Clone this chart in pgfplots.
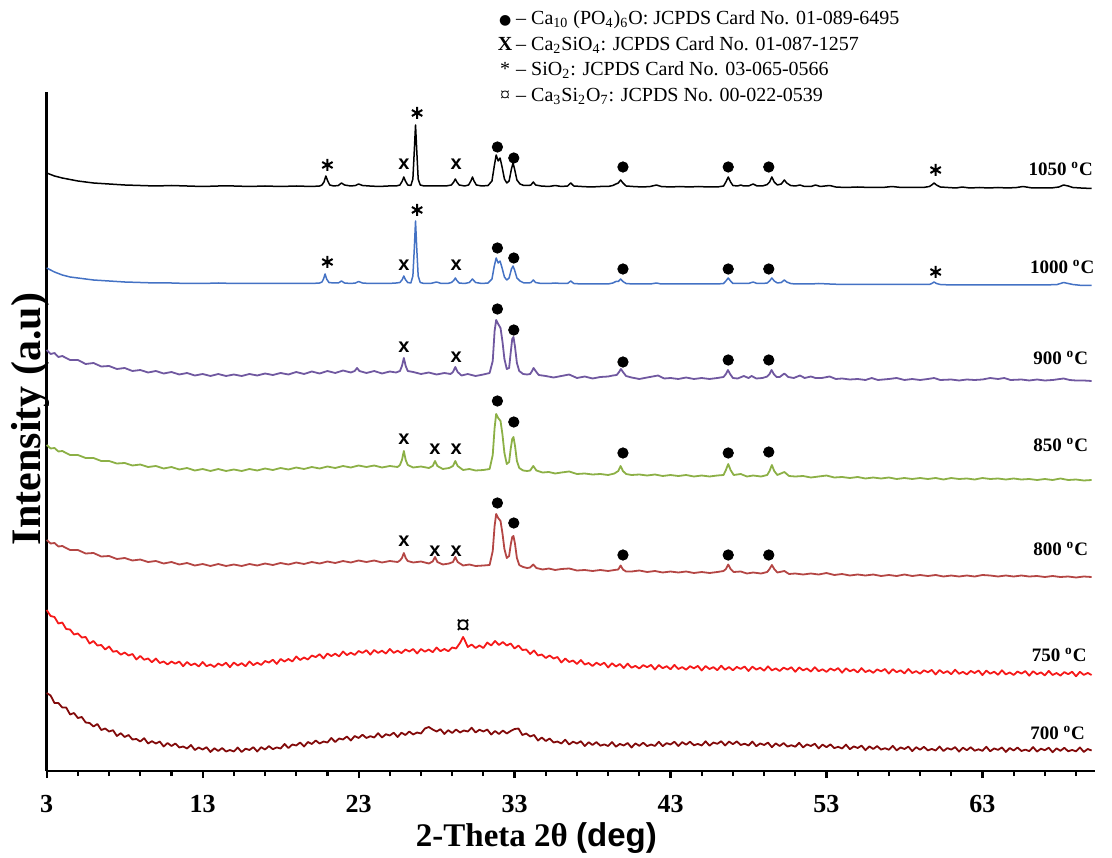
\documentclass[border=0pt]{standalone}
\usepackage{pgfplots}
\pgfplotsset{compat=1.18}
\usepackage{fontspec}
\setmainfont{Liberation Serif}
\newfontfamily\arialfont{Liberation Sans}
\newfontfamily\dejavu{DejaVu Sans}
\definecolor{c1050}{RGB}{0,0,0}
\definecolor{c1000}{RGB}{68,114,196}
\definecolor{c900}{RGB}{112,88,160}
\definecolor{c850}{RGB}{140,176,70}
\definecolor{c800}{RGB}{180,70,68}
\definecolor{c750}{RGB}{245,25,25}
\definecolor{c700}{RGB}{130,10,10}
\begin{document}
\begin{tikzpicture}
\useasboundingbox (-23.35pt,-43pt) rectangle (532.65pt,385.5pt);
\begin{axis}[
  at={(0,0)}, anchor=south west,
  scale only axis, width=524pt, height=339.5pt,
  xmin=3, xmax=70.2, ymin=0, ymax=679,
  axis x line*=bottom, axis y line*=left,
  axis line style={line width=1.2pt},
  xtick={3,13,23,33,43,53,63}, xticklabels={3,13,23,33,43,53,63},
  minor xtick={5,7,9,11,15,17,19,21,25,27,29,31,35,37,39,41,45,47,49,51,55,57,59,61,65,67,69},
  ytick=\empty,
  minor ytick={0,22.633,...,679},
  tick align=outside,
  major tick length=3.5pt, minor tick length=2.5pt,
  every tick/.style={line width=1.1pt, black},
  xticklabel style={font=\fontsize{13}{15}\selectfont\bfseries, yshift=-5pt},
  clip=false,
]
% 1050 C
\addplot[c1050, line width=0.75pt, line join=round] coordinates {
(3,598) (3.5,595) (4,593) (4.5,591.5) (5,590) (5.5,589) (6,588) (7,587) (8,586) (9,585.5) (10,585) (11,585.5) (12,585) (13,584.5) (14,585) (15,585) (16,584.5) (17,585) (18,584.5) (19,585) (20,584.5) (20.5,585)
(20.65,586) (20.78,589) (20.9,595) (21.02,590) (21.15,586) (21.4,585)
(21.7,585.5) (21.9,588) (22.1,586) (22.5,585)
(22.8,585.5) (23.0,587) (23.25,585.5) (23.7,585) (24.3,584.5) (24.9,585) (25.4,585)
(25.65,586) (25.8,590) (25.9,594) (26.0,590) (26.15,586)
(26.35,585.5) (26.48,592) (26.57,620) (26.65,646) (26.73,620) (26.82,592) (26.95,586) (27.2,585)
(27.6,585) (28.1,585) (28.6,585)
(28.95,586) (29.1,589) (29.2,592) (29.3,589) (29.45,586) (29.8,585)
(30.05,586) (30.2,590) (30.3,594) (30.4,590) (30.55,586) (30.9,585)
(31.3,585.5) (31.55,590) (31.7,605) (31.82,616) (31.95,610) (32.07,613) (32.2,604) (32.35,592) (32.5,588) (32.65,590) (32.8,602) (32.9,608) (33.0,602) (33.15,591) (33.35,587) (33.6,585.5) (33.9,585.5)
(34.05,586) (34.2,589) (34.35,586) (34.7,585)
(35.2,584.5) (35.6,585.5) (36.0,584.5)
(36.4,585) (36.6,588) (36.8,585) (37.3,584.5) (37.9,584) (38.5,584.5) (39.0,584.5) (39.3,585.5)
(39.5,587) (39.65,588) (39.8,591) (39.95,588) (40.15,585) (40.6,584.5) (41.2,584) (41.7,584.5)
(42.1,586) (42.4,584.5) (43,584) (43.6,584.5) (44.2,584) (44.8,584.5) (45.4,584) (46,584) (46.4,585)
(46.55,589) (46.7,594) (46.85,589) (47.0,585.5) (47.3,585) (47.5,586) (47.7,585) (48.0,585) (48.3,587) (48.55,585) (48.9,585) (49.2,586.5)
(49.35,589) (49.5,594) (49.65,589) (49.85,586) (50.1,587) (50.3,591) (50.45,588) (50.7,585.5) (51.0,585) (51.3,586) (51.6,584.5) (52.0,584.5) (52.3,586) (52.6,584.5) (53.2,585.5) (53.6,584) (54.2,583.5) (55,584) (55.8,583.5) (56.6,583.5) (57.2,584.5) (57.8,583.5) (58.5,583.5) (59.2,583.5) (59.6,584.5)
(59.75,586) (59.9,588) (60.05,586) (60.3,584) (60.8,583.5) (61.3,583) (61.7,584) (62.2,583) (62.8,583.5) (63.4,583) (64,583.5) (64.6,583) (65.2,583.5) (65.6,584.5) (66.2,583) (66.8,583) (67.4,583) (67.9,584) (68.2,586) (68.5,585) (68.8,583.5) (69.3,583) (70,582.5)
};
% 1000 C
\addplot[c1000, line width=0.75pt, line join=round] coordinates {
(3,503) (3.5,499) (4,496) (4.5,494) (5,493) (5.5,492) (6,491) (7,490) (8,489) (9,488.5) (10,488) (11,488) (12,487.5) (13,487.5) (14,488) (15,487.5) (16,487.5) (17,487.5) (18,487.5) (19,487.5) (20,487.5) (20.5,488)
(20.65,489) (20.75,492) (20.85,497) (20.95,492) (21.1,488.5) (21.4,488)
(21.7,488) (21.9,490) (22.1,488) (22.5,487.5) (22.8,488) (23.0,489.5) (23.25,488) (23.7,487.5) (24.3,487.5) (24.9,487.5) (25.4,488)
(25.65,488.5) (25.8,491.5) (25.9,495) (26.0,491.5) (26.15,488.5)
(26.35,488) (26.48,495) (26.57,522) (26.65,550) (26.73,522) (26.82,495) (26.95,488.5) (27.2,487.5)
(27.6,487.5) (28.0,489) (28.3,487.5) (28.7,487.5)
(28.95,488.5) (29.1,490.5) (29.2,493) (29.3,490.5) (29.45,488) (29.8,487.5)
(30.1,488.5) (30.3,492) (30.5,488.5) (30.9,487.5)
(31.3,488) (31.55,492) (31.7,505) (31.82,513) (31.95,508) (32.07,510) (32.2,503) (32.35,494) (32.5,491) (32.65,493) (32.8,502) (32.9,505) (33.0,501) (33.15,493) (33.35,490) (33.6,488) (33.9,488)
(34.05,488.5) (34.2,491) (34.35,488.5) (34.7,487.5) (35.2,487.5) (35.6,488) (36.0,487.5)
(36.4,487.5) (36.6,490) (36.8,487.5) (37.3,487) (37.9,487) (38.5,487) (39.0,487) (39.3,488)
(39.5,489.5) (39.65,489.5) (39.8,492) (39.95,489.5) (40.15,487.5) (40.6,487) (41.2,487) (41.7,487) (42.1,488) (42.4,487) (43,487) (43.6,487) (44.2,487) (44.8,487) (45.4,487) (46,487) (46.4,487.5)
(46.55,490) (46.7,493) (46.85,490) (47.0,487.5) (47.5,487.5) (48.0,487.5) (48.3,489) (48.55,487.5) (48.9,487.5) (49.2,488)
(49.35,490) (49.5,493) (49.65,490) (49.85,488) (50.1,488.5) (50.3,491) (50.45,489) (50.7,487.5) (51.0,487) (51.5,487) (52.0,487) (52.5,487.5) (53.2,487) (54,486.5) (55,486.5) (56,486.5) (57,486.5) (58,486.5) (59,486.5) (59.6,486.5)
(59.75,487.5) (59.9,489) (60.05,487.5) (60.3,486.5) (61,486) (62,486) (63,486) (64,486) (65,486) (66,486) (67,486) (67.8,486.5) (68.2,488.5) (68.5,487.5) (68.8,486.5) (69.4,485.5) (70,485.5)
};
% 900 C
\addplot[c900, line width=0.9pt, line join=round] coordinates {
(3,421) (3.25,417) (3.5,418) (3.75,414) (4,415) (4.5,411) (5,411) (5.5,407) (6,408) (6.5,404.5) (7,405) (7.5,402) (8,403) (8.5,400) (9,401) (9.5,398.5) (10,400) (10.5,397.5) (11,399) (11.5,396.5) (12,398) (12.5,395.5) (13,397) (13.5,395) (14,397) (14.5,395) (15,396.5) (15.5,395) (16,397) (16.5,395.5) (17,397.5) (17.5,396) (18,398) (18.5,396.5) (19,399) (19.5,397) (20,399.5) (20.5,397.5) (21,400) (21.5,398) (22,400.5) (22.5,398.5) (22.75,400) (22.9,403) (23.05,400) (23.5,398) (24,400) (24.5,397.5) (25,399.5) (25.4,398.5)
(25.65,400) (25.78,405) (25.9,413) (26.02,405) (26.15,400) (26.5,399) (27,397) (27.5,398.5) (28,396.5) (28.5,398) (28.9,397) (29.05,399) (29.2,404) (29.35,399) (29.6,395.5) (30,397) (30.5,395) (31,396.5) (31.4,398)
(31.6,410) (31.72,440) (31.82,451) (31.95,447) (32.1,443) (32.22,430) (32.35,412) (32.5,402) (32.65,403) (32.75,418) (32.85,432) (32.93,434) (33.03,424) (33.15,408) (33.3,400) (33.55,397) (33.8,396.5)
(34,397) (34.12,400) (34.22,403) (34.35,400) (34.55,396) (35,395) (35.5,393.5) (36,395) (36.5,396.5) (37,393) (37.5,394.5) (38,392.5) (38.5,394) (39,394.5) (39.3,395.5) (39.55,396) (39.7,399) (39.82,402) (39.95,399) (40.15,395) (40.5,393.5) (41,392) (41.5,393.5) (42.2,395.5) (42.6,392.5) (43,393) (43.5,392) (44,393.5) (44.5,392) (45,393) (45.5,392) (46,393) (46.4,394)
(46.55,397) (46.68,401) (46.82,397) (47,393) (47.3,392.5) (47.7,395) (48,393) (48.2,395) (48.5,392.5) (48.9,393) (49.2,394.5) (49.35,397) (49.48,401) (49.62,397) (49.8,394) (50,394) (50.3,397.5) (50.55,394) (50.9,393) (51.3,395.5) (51.6,393) (52,394.5) (52.3,393) (52.7,393) (53.2,394.5) (53.6,392) (54,392.5) (54.5,391.5) (55,392) (55.5,391) (55.9,393) (56.3,391) (57,392) (57.5,393) (58,391) (58.5,392) (59,391) (59.5,392) (59.9,393) (60.3,391) (61,391.5) (61.5,390.5) (62,391.5) (62.5,391) (63,391.5) (63.5,393) (64,392) (64.4,393) (64.8,391) (65.5,391.5) (66,390.5) (66.5,391.5) (67,390.5) (67.5,391) (68.2,392.5) (68.6,391) (69,390.5) (69.5,390.5) (70,390)
};
% 850 C
\addplot[c850, line width=0.9pt, line join=round] coordinates {
(3,326) (3.25,322.5) (3.5,323) (3.75,319.5) (4,320) (4.5,316) (5,316) (5.5,313) (6,313) (6.5,310) (7,310) (7.5,307.5) (8,308) (8.5,305.5) (9,306.5) (9.5,304) (10,305) (10.5,302.5) (11,304) (11.5,301.5) (12,303) (12.5,300.5) (13,302) (13.5,300) (14,302) (14.5,300) (15,301.5) (15.5,300) (16,302) (16.5,300.5) (17,302.5) (17.5,301) (18,303) (18.5,301.5) (19,303.5) (19.5,302) (20,304) (20.5,302.5) (21,304.5) (21.5,303) (22,305) (22.5,303.5) (23,305.5) (23.5,304) (24,305.5) (24.5,303.5) (25,305) (25.5,304)
(25.65,306) (25.78,311) (25.9,320) (26.02,311) (26.15,306) (26.5,303.5) (27,304.5) (27.5,303) (27.75,305) (27.9,310) (28.05,305) (28.4,302) (28.8,303) (29.05,305) (29.2,310) (29.35,305) (29.7,301) (30.1,302) (30.5,300.5) (31,301) (31.4,302)
(31.6,316) (31.72,343) (31.82,357) (31.95,353) (32.1,350) (32.22,337) (32.35,318) (32.5,307) (32.65,309) (32.75,322) (32.85,332) (32.93,334) (33.03,325) (33.15,310) (33.3,303) (33.55,300.5) (33.8,300)
(34,300.5) (34.2,305) (34.4,300.5) (34.8,298.5) (35.2,299) (35.6,297.5) (36,298.5) (36.5,299.5) (37,297) (37.5,297.5) (38,296.5) (38.5,297) (39,296) (39.4,297.5) (39.65,300) (39.8,305) (39.95,300) (40.15,297) (40.5,296) (41,296.5) (41.5,295.5) (42,296.5) (42.5,295) (43,296) (43.5,295) (44,296) (44.5,294.5) (45,295.5) (45.5,294.5) (46,295.5) (46.4,296)
(46.55,301) (46.7,307) (46.85,301) (47.05,296) (47.5,297) (47.9,294.5) (48.3,295.5) (48.8,294.5) (49.2,296) (49.35,300) (49.5,306) (49.65,300) (49.85,296) (50.3,299) (50.6,295) (51,294.5) (51.5,295) (52,293.5) (52.5,294.5) (53,295.5) (53.5,293.5) (54,294) (54.5,293) (55,294) (55.5,292.5) (56,293.5) (56.5,292.5) (57,293.5) (57.5,292) (58,293) (58.5,292) (59,293) (59.5,292) (60,293) (60.5,291.5) (61,293) (61.5,292) (62,292.5) (62.5,291.5) (63,293) (63.5,292) (64,292.5) (64.5,291.5) (65,292.5) (65.5,291.5) (66,292) (66.5,291) (67,292) (67.5,291) (68,292.5) (68.5,291) (69,291.5) (69.5,290.5) (70,291)
};
% 800 C
\addplot[c800, line width=0.9pt, line join=round] coordinates {
(3,231) (3.25,227.5) (3.5,228) (3.75,224.5) (4,225) (4.5,221) (5,221) (5.5,217.5) (6,218) (6.5,214.5) (7,215) (7.5,212) (8,213) (8.5,210.5) (9,211.5) (9.5,209) (10,210) (10.5,207.5) (11,209) (11.5,206.5) (12,208) (12.5,205.5) (13,207) (13.5,205) (14,207) (14.5,205) (15,206.5) (15.5,205) (16,207) (16.5,205.5) (17,207.5) (17.5,206) (18,208) (18.5,206.5) (19,208.5) (19.5,207) (20,209) (20.5,207.5) (21,209.5) (21.5,208) (22,210) (22.5,208.5) (23,210.5) (23.5,209) (24,210.5) (24.5,208.5) (25,210) (25.5,209)
(25.65,210.5) (25.78,213) (25.9,218) (26.02,213) (26.15,210) (26.5,208.5) (27,209.5) (27.5,207.5) (27.75,209.5) (27.9,214) (28.05,209) (28.4,206.5) (28.8,207.5) (29.05,209) (29.2,214) (29.35,209) (29.7,205.5) (30.1,206.5) (30.5,205) (31,205.5) (31.4,206)
(31.6,220) (31.72,245) (31.82,257) (31.95,253) (32.1,250) (32.22,238) (32.35,222) (32.5,213) (32.65,215) (32.75,226) (32.85,234) (32.93,235) (33.03,227) (33.15,213) (33.3,206) (33.55,204) (33.8,203)
(34.0,203.5) (34.2,206.5) (34.4,203) (34.8,201.5) (35.2,202.5) (35.6,201) (36,202) (36.5,202.5) (37,200.5) (37.5,201) (38,200) (38.5,201) (39,200) (39.4,201) (39.65,201.5) (39.8,205.5) (39.95,201.5) (40.15,199.5) (40.5,199.5) (41,200.5) (41.5,199) (42,200) (42.5,198.5) (43,199.5) (43.5,198.5) (44,199.5) (44.5,198) (45,199) (45.5,198) (46,199) (46.4,200)
(46.55,202) (46.7,206.5) (46.85,202) (47.05,199) (47.5,199.5) (47.9,197.5) (48.3,198.5) (48.8,197.5) (49.2,199) (49.35,202) (49.5,206) (49.65,202) (49.85,198.5) (50.3,200) (50.6,197) (51,197.5) (51.5,196.5) (52,197.5) (52.5,196.5) (53,198) (53.5,196) (54,197) (54.5,195.5) (55,196.5) (55.5,195.5) (56,196.5) (56.5,195) (57,196) (57.5,195) (58,196.5) (58.5,195) (59,196) (59.5,195) (60,196) (60.5,194.5) (61,195.5) (61.5,194.5) (62,195.5) (62.5,194.5) (63,196) (63.5,195.5) (64,194.5) (64.5,195.5) (65,194.5) (65.5,195.5) (66,194.5) (66.5,195) (67,194) (67.5,195) (68,194) (68.5,194.5) (69,193.5) (69.5,194.5) (70,194)
};
% 750 C
\addplot[c750, line width=0.9pt, line join=round] coordinates {
(3,161) (3.25,155) (3.5,154) (3.75,147.5) (4,148.5) (4.25,142) (4.5,141.5) (4.75,136.5) (5,137.5) (5.25,133.5) (5.5,134) (5.75,127.5) (6,130) (6.25,125.5) (6.5,126) (6.75,121.5) (7,124.5) (7.25,119.3) (7.5,120) (7.75,116.3) (8,118.5) (8.25,115.5) (8.5,117) (8.75,111.5) (9,115) (9.25,111.3) (9.5,112.5) (9.75,108.8) (10,112.5) (10.25,108) (10.5,109.5) (10.75,106.5) (11,109.5) (11.25,107.3) (11.5,109.5) (11.75,104.8) (12,109) (12.25,105.8) (12.5,107.5) (12.75,104.5) (13,109) (13.25,104.8) (13.5,106.5) (13.75,104) (14,107.5) (14.25,105.5) (14.5,108.3) (14.75,103.8) (15,108.5) (15.25,105.5) (15.5,107.8) (15.75,104.8) (16,109.5) (16.25,105.9) (16.5,108.3) (16.75,106.1) (17,110) (17.25,108.4) (17.5,111.3) (17.75,107.1) (18,112) (18.25,109.5) (18.5,112) (18.75,109.5) (19,114.5) (19.25,111) (19.5,113.5) (19.75,111.5) (20,115.5) (20.25,113.9) (20.5,116.8) (20.75,112.6) (21,117.5) (21.25,114.9) (21.5,117.3) (21.75,114.6) (22,119.5) (22.25,115.9) (22.5,118.3) (22.75,116.1) (23,120) (23.25,118.1) (23.5,120.8) (23.75,116.4) (24,121) (24.25,118.1) (24.5,120.3) (24.75,117.4) (25,122) (25.25,118.1) (25.5,120.3) (25.75,117.9) (26,121.5) (26.25,119.5) (26.5,122) (26.75,117.5) (27,122) (27.25,119.3) (27.5,121.5) (27.75,118.8) (28,123.5) (28.25,119.8) (28.5,122) (28.75,119.8) (29,123.5) (29.25,122.5) (29.5,128) (29.6,131) (29.7,134) (29.8,131) (30,124) (30.25,126.5) (30.5,123) (30.75,125.5) (31,123) (31.25,128.5) (31.5,125.5) (31.75,130) (32,126) (32.25,129) (32.5,125.5) (32.75,127.5) (33,122.5) (33.25,125.5) (33.5,121) (33.75,121.5) (34,117) (34.25,120.5) (34.5,115.5) (34.75,116.5) (35,113) (35.25,115.5) (35.5,112.5) (35.75,114) (36,108.5) (36.25,112.5) (36.5,109) (36.75,110.5) (37,107) (37.25,111) (37.5,106.5) (37.75,108) (38,105) (38.25,108.3) (38.5,106) (38.75,108.3) (39,103.5) (39.25,107.8) (39.5,104.5) (39.75,107) (40,103) (40.25,107.4) (40.5,103.3) (40.75,105.1) (41,102.5) (41.25,105.9) (41.5,103.8) (41.75,106.1) (42,101.5) (42.25,105.9) (42.5,102.8) (42.75,104.8) (43,101.7) (43.25,106.1) (43.5,102) (43.75,103.9) (44,101.3) (44.25,104.8) (44.5,102.7) (44.75,105.1) (45,100.5) (45.25,105) (45.5,101.9) (45.75,103.9) (46,100.8) (46.25,105.3) (46.5,101.3) (46.75,104) (47,100.7) (47.25,104.1) (47.5,102.1) (47.75,104.5) (48,100) (48.25,104.4) (48.5,101.4) (48.75,103.3) (49,100.3) (49.25,104.7) (49.5,100.6) (49.75,102.6) (50,100) (50.25,103.4) (50.5,101.4) (50.75,103.8) (51,99.2) (51.25,103.6) (51.5,100.6) (51.75,102.5) (52,99.4) (52.25,103.8) (52.5,99.8) (52.75,101.7) (53,99.1) (53.25,102.5) (53.5,100.5) (53.75,102.9) (54,98.3) (54.25,102.7) (54.5,99.7) (54.75,101.6) (55,98.5) (55.25,102.9) (55.5,98.9) (55.75,100.8) (56,98.2) (56.25,101.6) (56.5,99.6) (56.75,102) (57,97.4) (57.25,101.8) (57.5,98.8) (57.75,100.7) (58,97.6) (58.25,102) (58.5,98) (58.75,99.9) (59,97.3) (59.25,100.7) (59.5,98.7) (59.75,101.1) (60,96.5) (60.25,101) (60.5,97.9) (60.75,99.9) (61,96.8) (61.25,101.3) (61.5,97.2) (61.75,99.2) (62,96.6) (62.25,100.1) (62.5,98) (62.75,100.5) (63,95.9) (63.25,100.4) (63.5,97.3) (63.75,99.3) (64,96.2) (64.25,100.7) (64.5,96.6) (64.75,98.6) (65,96) (65.25,99.5) (65.5,97.4) (65.75,99.9) (66,95.3) (66.25,99.8) (66.5,96.7) (66.75,98.7) (67,95.6) (67.25,100.1) (67.5,96) (67.75,98) (68,95.4) (68.25,98.9) (68.5,96.8) (68.75,99.3) (69,94.7) (69.25,99.2) (69.5,96.1) (69.75,98.1) (70,96)
};
% 700 C
\addplot[c700, line width=0.9pt, line join=round] coordinates {
(3,78) (3.25,75.5) (3.5,68) (3.75,68) (4,63.5) (4.25,63.5) (4.5,56.5) (4.75,58) (5,53) (5.25,54) (5.5,48.5) (5.75,48) (6,44.5) (6.25,47) (6.5,41) (6.75,42.5) (7,39.5) (7.25,40.8) (7.5,35) (7.75,37.8) (8,34) (8.25,36) (8.5,31.5) (8.75,32) (9,29.5) (9.25,32.8) (9.5,27.5) (9.75,29.8) (10,27.5) (10.25,29.5) (10.5,24.5) (10.75,28) (11,25) (11.25,27.5) (11.5,23.5) (11.75,24.5) (12,22.5) (12.25,26) (12.5,21) (12.75,23.5) (13,21.5) (13.25,23.8) (13.5,19) (13.75,22.8) (14,20) (14.25,23) (14.5,19.5) (14.75,21) (15,19.5) (15.25,23.5) (15.5,19) (15.75,22.3) (16,21) (16.25,23.8) (16.5,19.5) (16.75,23.8) (17,21.5) (17.25,24.9) (17.5,21.8) (17.75,23.6) (18,22.5) (18.25,27) (18.5,23) (18.75,26.5) (19,25.5) (19.25,28.5) (19.5,24.5) (19.75,29) (20,27) (20.25,30.5) (20.5,27.5) (20.75,29.5) (21,28.5) (21.25,33) (21.5,29) (21.75,32.5) (22,31.5) (22.25,34.5) (22.5,30.5) (22.75,35) (23,33) (23.25,36.3) (23.5,33) (23.75,34.8) (24,33.5) (24.25,37.8) (24.5,33.5) (24.75,36.8) (25,35.5) (25.25,38.3) (25.5,34) (25.75,38.3) (26,36) (26.25,39.5) (26.5,36.5) (26.75,38.5) (27,37.5) (27.25,42.5) (27.5,44) (27.75,41.5) (28,39.5) (28.25,41.8) (28.5,37) (28.75,40.8) (29,38) (29.25,41.5) (29.5,38.5) (29.75,40.5) (30,39.5) (30.25,43.3) (30.5,38.5) (30.75,41.3) (31,39.5) (31.25,41.5) (31.5,36.5) (31.75,40) (32,37) (32.25,40.5) (32.5,37.5) (32.75,40) (33,42) (33.25,42.5) (33.5,36) (33.75,37.5) (34,34.5) (34.25,36) (34.5,30.5) (34.75,33.5) (35,30) (35.25,32.5) (35.5,28.5) (35.75,29.5) (36,27.5) (36.25,31.3) (36.5,26.5) (36.75,29.3) (37,27.5) (37.25,29.8) (37.5,25) (37.75,28.8) (38,26) (38.25,28.9) (38.5,25.3) (38.75,26.6) (39,25) (39.25,28.9) (39.5,24.3) (39.75,27.1) (40,25.5) (40.25,28) (40.5,23.5) (40.75,27.6) (41,25.2) (41.25,28.3) (41.5,24.9) (41.75,26.5) (42,25.1) (42.25,29.2) (42.5,24.8) (42.75,27.9) (43,26.5) (43.25,29.3) (43.5,25) (43.75,28.9) (44,26.3) (44.25,29.3) (44.5,25.7) (44.75,27.1) (45,25.5) (45.25,29.7) (45.5,25.3) (45.75,28.5) (46,27.2) (46.25,29.8) (46.5,25.5) (46.75,29.5) (47,26.8) (47.25,29.6) (47.5,26) (47.75,27.3) (48,25.5) (48.25,29.4) (48.5,24.8) (48.75,27.6) (49,26) (49.25,28.4) (49.5,23.8) (49.75,27.6) (50,25) (50.25,27.9) (50.5,24.4) (50.75,25.8) (51,24.3) (51.25,28.2) (51.5,23.6) (51.75,26.6) (52,25) (52.25,27.3) (52.5,22.6) (52.75,26.4) (53,23.8) (53.25,26.6) (53.5,22.9) (53.75,24.2) (54,22.5) (54.25,26.4) (54.5,21.8) (54.75,24.6) (55,23) (55.25,25.4) (55.5,20.8) (55.75,24.6) (56,22) (56.25,24.9) (56.5,21.4) (56.75,22.8) (57,21.3) (57.25,25.2) (57.5,20.6) (57.75,23.6) (58,22) (58.25,24.4) (58.5,19.9) (58.75,23.8) (59,21.3) (59.25,24.2) (59.5,20.6) (59.75,22.1) (60,20.5) (60.25,24.5) (60.5,20) (60.75,22.9) (61,21.4) (61.25,23.9) (61.5,19.4) (61.75,23.3) (62,20.8) (62.25,23.8) (62.5,20.3) (62.75,21.7) (63,20.2) (63.25,24.2) (63.5,19.7) (63.75,22.6) (64,21.1) (64.25,23.6) (64.5,19.1) (64.75,23) (65,20.5) (65.25,23.5) (65.5,20) (65.75,21.4) (66,19.9) (66.25,23.9) (66.5,19.4) (66.75,22.3) (67,20.8) (67.25,23.3) (67.5,18.8) (67.75,22.7) (68,20.2) (68.25,23.2) (68.5,19.7) (68.75,21.1) (69,19.6) (69.25,23.6) (69.5,19.1) (69.75,22) (70,20.5)
};
% phase markers: Ca10(PO4)6O
\addplot[only marks, mark=*, mark size=2.6pt, black] coordinates {
(31.9,624) (32.95,613) (39.95,604) (46.7,604) (49.3,604)
(31.9,523) (32.95,513) (39.95,502) (46.7,502) (49.3,502)
(31.9,462) (32.95,441) (39.95,409) (46.7,411) (49.3,411)
(31.9,370) (32.95,349) (39.95,318) (46.7,318) (49.3,319)
(31.9,268) (32.95,248) (39.95,216) (46.7,216) (49.3,216)
};
% SiO2
\addplot[only marks, mark=asterisk, mark size=3pt, line width=1pt, black] coordinates {
(21.0,606) (26.75,658) (60.0,601)
(21.0,509) (26.75,561) (60.0,499)
};
% Ca2SiO4
\foreach \xx/\yy in {25.9/607, 29.25/607, 25.9/506, 29.25/506, 25.9/424, 29.25/414, 25.9/332, 27.9/322, 29.25/322, 25.9/230, 27.9/220, 29.25/220} {
  \edef\tmp{\noexpand\node[font=\noexpand\arialfont\noexpand\fontsize{10}{11}\noexpand\selectfont\noexpand\bfseries, inner sep=0pt] at (axis cs:\xx,\yy) {x};}
  \tmp
}
% Ca3Si2O7
\node[font=\fontsize{14}{15}\selectfont\bfseries, inner sep=0pt] at (axis cs:29.7,144) {¤};
% temperature labels
\begin{scope}[every node/.style={anchor=east, font=\fontsize{9.5}{11}\selectfont\bfseries, inner sep=0pt}]
\node at (axis cs:70.1,602) {1050 \textsuperscript{o}C};
\node at (axis cs:70.2,504) {1000 \textsuperscript{o}C};
\node at (axis cs:69.8,413) {900 \textsuperscript{o}C};
\node at (axis cs:69.8,326) {850 \textsuperscript{o}C};
\node at (axis cs:69.8,222) {800 \textsuperscript{o}C};
\node at (axis cs:69.7,116) {750 \textsuperscript{o}C};
\node at (axis cs:69.6,38) {700 \textsuperscript{o}C};
\end{scope}
% legend text
\begin{scope}[every node/.style={anchor=west, font=\fontsize{10}{12}\selectfont, inner sep=0pt}]
\node at (axis cs:31.99,751) {\makebox[6pt][c]{\dejavu\fontsize{7}{8}\selectfont ●} – Ca\textsubscript{10} (PO\textsubscript{4})\textsubscript{6}O: JCPDS Card No. 01-089-6495};
\node at (axis cs:31.99,726) {\makebox[6pt][c]{\bfseries X} – Ca\textsubscript{2}SiO\textsubscript{4}: JCPDS Card No. 01-087-1257};
\node at (axis cs:31.99,701) {\makebox[6pt][c]{*} – SiO\textsubscript{2}: JCPDS Card No. 03-065-0566};
\node at (axis cs:31.99,675) {\makebox[6pt][c]{¤} – Ca\textsubscript{3}Si\textsubscript{2}O\textsubscript{7}: JCPDS No. 00-022-0539};
\end{scope}
% axis titles
\node[rotate=90, font=\fontsize{21}{24}\selectfont\bfseries] at (axis cs:1.93,352) {Intensity (a.u)};
\node[font=\fontsize{16.5}{19}\selectfont\bfseries] at (axis cs:34.4,-67) {2-Theta 2θ {\arialfont (deg)}};
\end{axis}
\end{tikzpicture}
\end{document}
